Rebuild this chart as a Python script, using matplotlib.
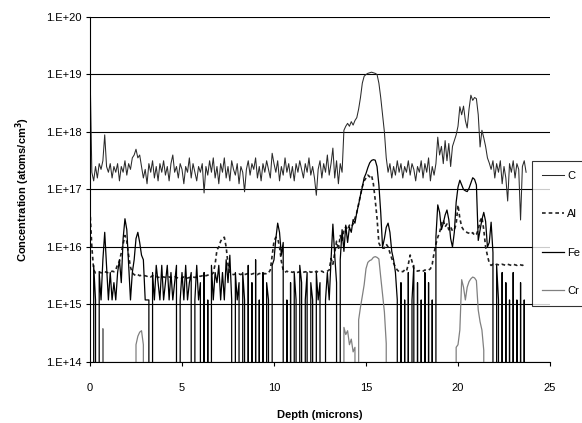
import numpy as np
import matplotlib
matplotlib.use('Agg')
import matplotlib.pyplot as plt
from matplotlib.ticker import FixedLocator, FuncFormatter, NullLocator

# depth step of the profile (microns)
step = 0.1

# C, log10 of atoms/cm3, one value per 0.1 micron
c_log10 = [
    19.13, 17.3, 17.15, 17.4, 17.2, 17.45, 17.35, 17.5, 17.95, 17.4,
    17.3, 17.45, 17.2, 17.4, 17.3, 17.45, 17.15, 17.4, 17.3, 17.5,
    17.25, 17.45, 17.35, 17.55, 17.6, 17.7, 17.55, 17.6, 17.4, 17.2,
    17.35, 17.1, 17.45, 17.3, 17.5, 17.2, 17.4, 17.15, 17.45, 17.3,
    17.5, 17.25, 17.4, 17.15, 17.45, 17.6, 17.3, 17.4, 17.2, 17.45,
    17.35, 17.1, 17.4, 17.3, 17.55, 17.2, 17.45, 17.3, 17.15, 17.4,
    17.3, 17.45, 16.94, 17.4, 17.25, 17.5, 17.3, 17.55, 17.2, 17.4,
    17.1, 17.45, 17.3, 17.55, 17.2, 17.4, 17.15, 17.5, 17.35, 17.25,
    17.45, 17.1, 17.4, 17.3, 16.96, 17.35, 17.5, 17.25, 17.45, 17.35,
    17.55, 17.2, 17.4, 17.15, 17.45, 17.3, 17.5, 17.35, 17.2, 17.63,
    17.45, 17.3, 17.5, 17.15, 17.4, 17.25, 17.55, 17.3, 17.45, 17.2,
    17.4, 17.15, 17.45, 17.3, 17.5, 17.35, 17.2, 17.45, 17.3, 17.55,
    17.25, 17.4, 17.2, 16.9, 17.35, 17.5, 17.2, 17.45, 17.3, 17.6,
    17.25, 17.45, 17.72, 17.2, 17.5, 17.1, 17.45, 17.3, 18.03, 18.1,
    18.15, 18.1, 18.18, 18.12, 18.2, 18.25, 18.4, 18.6, 18.85, 18.97,
    19.0, 19.02, 19.03, 19.04, 19.03, 19.02, 19.0, 18.85, 18.6, 18.3,
    18.0, 17.55, 17.3, 17.45, 17.2, 17.4, 17.25, 17.5, 17.3, 17.45,
    17.2, 17.4, 17.3, 17.5, 17.25, 17.45, 17.35, 17.15, 17.4, 17.3,
    17.5, 17.2, 17.45, 17.3, 17.55, 17.15, 17.4, 17.25, 17.45, 17.91,
    17.6, 17.75, 17.45, 17.85, 17.5, 17.8, 17.4, 17.75, 17.85, 17.95,
    18.1, 18.44, 18.3, 18.45, 18.2, 18.07, 18.4, 18.64, 18.55, 18.6,
    18.58, 18.3, 17.74, 18.03, 17.9, 17.75, 17.55, 17.46, 17.35, 17.5,
    17.2, 17.45, 17.3, 17.5, 17.1, 17.4, 17.2, 16.8, 17.45, 17.3,
    17.5, 17.2, 17.45, 17.35, 16.47, 17.4, 17.5, 17.3,
]

# Al, log10 of atoms/cm3
al_log10 = [
    16.64, 16.0, 15.6, 15.55, 15.56, 15.57, 15.55, 15.56, 15.57, 15.56,
    15.55, 15.56, 15.58, 15.57, 15.6, 15.7, 15.75, 15.9, 16.05, 16.2,
    16.1, 15.85, 15.65, 15.55, 15.52, 15.5, 15.52, 15.5, 15.51, 15.5,
    15.5, 15.49, 15.5, 15.48, 15.5, 15.48, 15.49, 15.47, 15.48, 15.47,
    15.48, 15.47, 15.46, 15.48, 15.47, 15.46, 15.48, 15.47, 15.46, 15.47,
    15.46, 15.48, 15.47, 15.46, 15.47, 15.46, 15.48, 15.47, 15.48, 15.5,
    15.49, 15.5, 15.52, 15.5, 15.51, 15.53, 15.52, 15.55, 15.7, 15.95,
    16.0, 16.1, 16.15, 16.17, 16.0, 15.7, 15.55, 15.53, 15.52, 15.53,
    15.52, 15.53, 15.52, 15.54, 15.52, 15.53, 15.54, 15.52, 15.53, 15.54,
    15.53, 15.52, 15.54, 15.53, 15.52, 15.54, 15.53, 15.55, 15.6, 15.85,
    16.1, 16.17, 16.15, 16.0, 15.75, 15.6, 15.56, 15.58, 15.56, 15.57,
    15.56, 15.57, 15.55, 15.56, 15.57, 15.55, 15.56, 15.57, 15.56, 15.58,
    15.56, 15.57, 15.55, 15.58, 15.56, 15.57, 15.58, 15.56, 15.57, 15.58,
    15.6, 15.8, 15.7, 15.9, 16.1, 15.95, 16.2, 16.1, 16.3, 16.35,
    16.3, 16.38, 16.35, 16.4, 16.5, 16.6, 16.75, 16.9, 17.05, 17.15,
    17.2, 17.25, 17.22, 17.25, 17.1, 16.82, 16.5, 16.07, 16.0, 15.98,
    15.98, 16.05, 16.0, 15.9, 15.8, 15.72, 15.65, 15.6, 15.57, 15.58,
    15.57, 15.6, 15.58, 15.7, 15.86, 15.75, 15.62, 15.6, 15.58, 15.59,
    15.57, 15.58, 15.6, 15.59, 15.6, 15.62, 15.7, 15.9, 16.05, 16.17,
    16.25, 16.4, 16.47, 16.35, 16.4, 16.3, 16.35, 16.28, 16.3, 16.4,
    16.73, 16.5, 16.35, 16.3, 16.28, 16.25, 16.24, 16.22, 16.25, 16.2,
    16.22, 16.3, 16.45, 16.52, 16.3, 16.0, 15.85, 15.72, 15.68, 15.7,
    15.68, 15.7, 15.69, 15.68, 15.7, 15.69, 15.68, 15.7, 15.69, 15.68,
    15.7, 15.69, 15.68, 15.7, 15.69, 15.68, 15.7, 15.69,
]

# Fe, in units of 1E+15 atoms/cm3 (0 = below detection)
fe_e15 = [
    2.4, 0, 4.8, 1.2, 0, 3.6, 1.2, 6.0, 18, 4.8,
    1.2, 3.6, 1.2, 2.4, 1.2, 3.6, 6.0, 2.4, 14, 31,
    20, 4.8, 1.2, 3.6, 6.0, 14, 18, 12, 7.2, 6.0,
    1.2, 1.2, 1.2, 0, 3.6, 1.2, 4.8, 2.4, 1.2, 4.8,
    1.2, 2.4, 4.8, 1.2, 3.6, 1.2, 2.4, 4.8, 0, 1.2,
    3.6, 1.2, 4.8, 1.2, 2.4, 3.6, 0, 1.2, 4.8, 1.2,
    2.4, 0, 3.6, 0, 1.2, 0, 4.8, 1.2, 3.6, 2.4,
    4.8, 1.2, 3.6, 1.2, 6.0, 2.4, 7.2, 1.2, 0, 3.6,
    1.2, 2.4, 0, 3.6, 1.2, 0, 4.8, 0, 2.4, 0,
    6.0, 0, 1.2, 0, 3.6, 0, 2.4, 1.2, 0, 4.8,
    6.0, 14, 26, 18, 7.2, 12, 0, 1.2, 0, 2.4,
    0, 3.6, 1.2, 0, 4.8, 2.4, 0, 1.2, 3.6, 0,
    2.4, 1.2, 0, 3.6, 1.2, 2.4, 0, 0, 1.2, 3.6,
    1.2, 6.0, 25, 7.2, 2.4, 0, 6.0, 20, 8.4, 24,
    12, 22, 18, 30, 26, 40, 55, 80, 110, 160,
    190, 240, 290, 320, 330, 324, 250, 120, 40, 10,
    14, 22, 26, 18, 8.4, 6.0, 3.6, 1.2, 0, 2.4,
    0, 1.2, 0, 3.6, 0, 1.2, 4.8, 0, 2.4, 0,
    1.2, 0, 3.6, 0, 2.4, 0, 1.2, 0, 15, 54,
    40, 20, 26, 36, 44, 30, 14, 10, 18, 60,
    110, 145, 120, 100, 95, 92, 105, 130, 160, 150,
    120, 13, 20, 30, 40, 28, 10, 12, 27, 8,
    0, 4.8, 1.2, 0, 3.6, 0, 2.4, 0, 1.2, 0,
    3.6, 0, 1.2, 0, 2.4, 0, 1.2, 0,
]

# Cr, in units of 1E+15 atoms/cm3, only where it rises above the floor
cr_depth = [0.6, 0.7, 0.8,
            2.4, 2.5, 2.6, 2.7, 2.8, 2.9, 3.0,
            13.7, 13.8, 13.9, 14.0, 14.1, 14.2, 14.3, 14.4, 14.5,
            14.6, 14.7, 14.8, 14.9, 15.0, 15.1, 15.2, 15.3, 15.4, 15.5,
            15.6, 15.7, 15.8, 15.9, 16.0, 16.1, 16.2,
            19.8, 19.9, 20.0, 20.1, 20.2, 20.3, 20.4, 20.5, 20.6, 20.7,
            20.8, 20.9, 21.0, 21.1, 21.2, 21.3, 21.4, 21.5]
cr_e15 = [0, 0.38, 0,
          0, 0.2, 0.28, 0.33, 0.35, 0.2, 0,
          0, 0.4, 0.3, 0.35, 0.2, 0.25, 0.15, 0.18, 0,
          0.54, 0.9, 1.4, 2.2, 4.2, 5.4, 5.8, 6.0, 6.6, 6.8,
          6.6, 6.2, 3.0, 1.5, 0.74, 0.21, 0,
          0, 0.18, 0.2, 0.36, 2.7, 2.0, 1.2, 2.0, 2.5, 2.8,
          3.0, 2.9, 2.6, 0.8, 0.5, 0.36, 0.16, 0]

y_decades = [14, 15, 16, 17, 18, 19, 20]
x_ticks = [0, 5, 10, 15, 20, 25]


def main():
    plt.rcParams['font.family'] = ['Liberation Sans', 'DejaVu Sans']
    fig = plt.figure(figsize=(5.82, 4.23), dpi=100)
    ax = fig.add_axes([90 / 582, 1 - 362 / 423, 460 / 582, 345 / 423])

    c = 10 ** np.array(c_log10)
    al = 10 ** np.array(al_log10)
    fe = np.array(fe_e15) * 1e15
    cr = np.array(cr_e15) * 1e15

    ax.set_yscale('log')
    ax.plot(np.arange(len(c)) * step, c, color='#2a2a2a', lw=0.75, label='C')
    ax.plot(np.arange(len(al)) * step, al, color='#222222', lw=1.2,
            ls=(0, (2.2, 1.8)), label='Al')
    ax.plot(np.arange(len(fe)) * step, fe, color='black', lw=0.9, label='Fe')
    ax.plot(cr_depth, cr, color='#808080', lw=0.9, label='Cr')

    ax.set_xlim(0, 25)
    ax.set_ylim(1e14, 1e20)
    ax.yaxis.set_major_locator(FixedLocator([10.0 ** d for d in y_decades]))
    ax.yaxis.set_minor_locator(NullLocator())
    ax.yaxis.set_major_formatter(
        FuncFormatter(lambda v, p: '1.E+%d' % round(np.log10(v))))
    ax.set_xticks(x_ticks)
    ax.grid(axis='y', color='black', lw=0.8)
    ax.set_axisbelow(True)
    for s in ('top', 'right'):
        ax.spines[s].set_visible(False)
    ax.spines['left'].set_linewidth(0.8)
    ax.spines['bottom'].set_linewidth(0.8)
    ax.tick_params(axis='both', labelsize=8, length=3, width=0.8, pad=3)
    ax.tick_params(axis='x', pad=12)

    ax.set_xlabel('Depth (microns)', fontsize=8, fontweight='bold', labelpad=12)
    ax.set_ylabel('Concentration (atoms/cm$^\\mathbf{3}$)', fontsize=8,
                  fontweight='bold', labelpad=10)

    # legend sits at the right edge and runs off the picture, as in the original
    leg = fig.legend(loc='upper left', bbox_to_anchor=(532 / 582, 1 - 161 / 423),
                     fontsize=8, frameon=True, fancybox=False, handlelength=2.0,
                     labelspacing=2.55, borderpad=0.9, handletextpad=0.25,
                     borderaxespad=0)
    leg.get_frame().set_edgecolor('black')
    leg.get_frame().set_linewidth(0.8)

    fig.savefig('out.png', dpi=100)


if __name__ == '__main__':
    main()
